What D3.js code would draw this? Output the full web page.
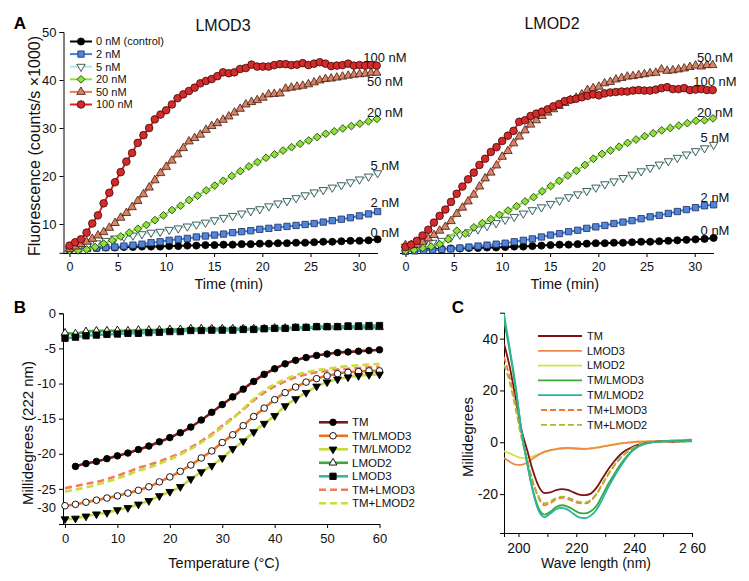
<!DOCTYPE html>
<html><head><meta charset="utf-8">
<script src="https://cdn.jsdelivr.net/npm/d3@7"></script>
<style>
body{margin:0;background:#fff;}
svg{display:block;font-family:"Liberation Sans",Arial,Helvetica,sans-serif;}
</style></head><body>
<svg id="fig" width="749" height="581"></svg>
<script>
// ---------------- Panel A data ----------------
const concLabels = ["0 nM","2 nM","5 nM","20 nM","50 nM","100 nM"];
const legendLabelsA = ["0 nM (control)","2 nM","5 nM","20 nM","50 nM","100 nM"];
const timeTicks = [0,5,10,15,20,25,30];
const yTicksA = [10,20,30,40,50];
// sampling interval (min) of each concentration series
const sampleStepA = [0.94,0.94,0.94,0.886,0.59,0.59];

// LMOD3 (left)
const lmod3_0nM = [4.8,4.9,5.0,5.0,5.1,5.1,5.2,5.2,5.3,5.3,5.3,5.4,5.4,5.5,5.5,5.6,5.6,5.7,5.7,5.8,5.8,5.9,5.9,6.0,6.0,6.1,6.1,6.2,6.3,6.3,6.4,6.5,6.5,6.6,6.8];
const lmod3_2nM = [4.7,4.8,4.9,5.0,5.1,5.2,5.4,5.6,5.8,6.1,6.3,6.6,6.8,7.0,7.3,7.5,7.7,7.9,8.2,8.4,8.6,8.9,9.1,9.3,9.5,9.7,9.9,10.1,10.4,10.7,11.0,11.3,11.7,12.1,12.6];
const lmod3_5nM = [4.8,5.1,5.5,6.0,6.5,7.0,7.3,7.6,7.9,8.2,8.4,8.8,9.1,9.5,9.9,10.3,10.8,11.3,11.7,12.2,12.7,13.1,13.7,14.3,14.8,15.4,16.0,16.6,17.1,17.6,18.1,18.7,19.3,19.9,20.6];
const lmod3_20nM = [4.5,4.5,4.7,5.2,5.9,6.6,7.4,8.2,9.0,9.8,10.8,11.8,12.9,13.8,15.0,15.9,17.0,18.0,19.0,20.0,21.0,22.0,22.9,23.8,24.5,25.3,26.0,26.7,27.4,28.1,28.8,29.3,29.9,30.4,30.9,31.4,31.9];
const lmod3_50nM = [4.8,5.3,5.8,6.3,6.9,7.6,8.3,9.2,10.2,11.3,12.3,13.5,14.8,16.2,17.6,19.1,20.6,21.9,23.2,24.5,25.8,27.2,27.9,28.6,29.6,30.4,31.0,31.7,32.4,33.2,34.0,34.9,35.4,35.8,36.3,37.0,37.1,37.2,38.2,38.4,38.6,38.8,39.1,39.5,39.9,40.2,40.3,40.5,40.7,40.9,41.1,41.2,41.3,41.5,41.5];
const lmod3_100nM = [5.5,6.2,6.8,8.2,10.1,11.8,14.3,16.5,18.7,20.8,23.0,24.8,26.9,28.5,30.0,31.8,32.8,33.7,34.9,36.2,37.0,37.7,38.4,39.3,39.8,40.2,40.8,41.6,41.4,41.6,42.3,42.5,43.2,42.8,42.8,42.8,43.1,43.3,43.3,43.1,43.2,43.5,43.1,43.4,43.7,43.4,42.9,43.0,43.1,43.4,43.0,43.1,43.0,43.1,43.0];
// LMOD2 (right)
const lmod2_0nM = [4.5,4.6,4.7,4.8,4.8,4.9,4.9,5.0,5.0,5.1,5.1,5.2,5.3,5.3,5.4,5.5,5.6,5.7,5.7,5.8,5.9,6.0,6.0,6.1,6.1,6.2,6.3,6.3,6.4,6.5,6.6,6.7,6.8,6.9,7.1];
const lmod2_2nM = [4.3,4.4,4.5,4.6,4.7,4.8,5.0,5.2,5.4,5.6,5.8,6.0,6.3,6.6,6.9,7.3,7.7,8.0,8.4,8.7,9.1,9.4,9.7,10.1,10.4,10.7,11.1,11.5,11.8,12.2,12.6,13.0,13.4,13.8,14.0];
const lmod2_5nM = [5.3,5.5,5.8,6.1,6.5,7.2,7.8,8.3,8.9,9.6,10.2,10.9,11.5,12.2,12.9,13.5,14.2,14.9,15.6,16.2,16.9,17.6,18.3,18.9,19.6,20.3,21.0,21.7,22.4,23.1,23.8,24.5,25.2,25.8,26.5];
const lmod2_20nM = [4.4,4.6,5.0,5.3,5.8,6.8,8.6,8.0,9.3,10.2,11.0,11.9,12.8,13.7,14.7,15.6,16.8,17.9,19.0,20.1,21.1,22.3,23.6,24.6,25.3,26.1,26.9,27.6,28.3,28.9,29.5,30.0,30.5,31.0,31.5,31.6,32.0];
const lmod2_50nM = [5.6,5.6,5.7,6.3,7.0,7.7,8.6,9.4,10.6,12.1,13.4,14.7,16.1,17.8,19.5,20.7,22.2,24.0,25.2,26.8,28.2,29.5,30.7,31.6,32.5,33.2,33.9,34.6,35.2,35.8,36.3,37.0,37.9,38.3,38.6,39.3,39.6,40.1,40.4,40.7,40.8,41.0,41.2,41.4,41.5,42.2,41.9,42.0,42.2,42.4,42.7,43.0,42.8,43.1,43.1];
const lmod2_100nM = [5.2,5.7,6.5,7.6,8.8,10.3,11.7,13.0,14.6,16.3,17.8,19.3,20.7,22.3,23.6,25.0,26.0,27.3,28.4,29.4,31.3,31.6,32.5,33.0,33.4,33.9,34.5,35.0,35.6,35.9,36.1,36.4,36.7,37.0,36.8,37.2,37.4,37.5,37.6,37.6,37.8,37.9,37.8,37.8,38.0,38.3,38.5,38.1,38.1,38.3,37.9,38.0,38.1,37.9,37.9];
// end-of-curve label anchor values (fluorescence units)
const endLabelValsLMOD3 = [8.3,14.4,22.1,33.3,39.6,44.8];
const endLabelValsLMOD2 = [8.75,15.6,28.1,33.3,44.8,39.6];

// ---------------- Panel B data ----------------
const tempB = [0,2,4,6,8,10,12,14,16,18,20,22,24,26,28,30,32,34,36,38,40,42,44,46,48,50,52,54,56,58,60];
const tempTicks = [0,10,20,30,40,50,60];
const yTicksB = [0,-5,-10,-15,-20,-25,-30];
const legendLabelsB = ["TM","TM/LMOD3","TM/LMOD2","LMOD2","LMOD3","TM+LMOD3","TM+LMOD2"];
const meltTM = [null,-21.8,-21.4,-21.1,-20.7,-20.3,-19.9,-19.4,-18.9,-18.3,-17.7,-17.0,-16.2,-15.2,-14.1,-13.0,-11.9,-10.8,-9.7,-8.7,-7.9,-7.2,-6.7,-6.3,-6.0,-5.8,-5.6,-5.5,-5.4,-5.3,-5.2];
const meltTM_LMOD3 = [-27.4,-27.2,-26.9,-26.6,-26.3,-26.0,-25.6,-25.2,-24.7,-24.0,-23.3,-22.5,-21.6,-20.6,-19.6,-18.4,-17.3,-16.0,-14.7,-13.5,-12.3,-11.3,-10.5,-9.8,-9.3,-8.9,-8.6,-8.4,-8.3,-8.2,-8.2];
const meltTM_LMOD2 = [-29.3,-29.2,-28.9,-28.6,-28.4,-28.0,-27.7,-27.2,-26.7,-26.0,-25.4,-24.7,-23.6,-22.6,-21.7,-20.6,-19.3,-18.2,-16.9,-15.7,-14.6,-13.2,-12.2,-11.3,-10.4,-9.8,-9.4,-9.1,-8.9,-8.75,-8.7];
const meltLMOD2 = [-2.8,-2.9,-2.6,-2.5,-2.5,-2.45,-2.5,-2.4,-2.4,-2.4,-2.3,-2.3,-2.2,-2.2,-2.2,-2.2,-2.2,-2.2,-2.2,-2.2,-2.1,-2.1,-2.1,-2.1,-2.0,-2.0,-2.0,-2.0,-2.0,-2.0,-2.0];
const meltLMOD3 = [-3.55,-3.4,-3.2,-3.1,-3.0,-2.95,-2.85,-2.85,-2.75,-2.7,-2.6,-2.6,-2.45,-2.45,-2.4,-2.4,-2.4,-2.3,-2.3,-2.2,-2.15,-2.15,-2.0,-2.0,-1.9,-1.9,-1.9,-1.8,-1.8,-1.75,-1.75];
const meltTMplusLMOD3 = [-24.9,-24.6,-24.3,-24.0,-23.6,-23.1,-22.6,-22.0,-21.6,-21.1,-20.5,-19.9,-19.1,-18.2,-17.2,-16.0,-14.9,-13.7,-12.4,-11.3,-10.4,-9.7,-9.1,-8.7,-8.4,-8.2,-8.0,-7.9,-7.8,-7.7,-7.6];
const meltTMplusLMOD2 = [-25.4,-25.1,-24.8,-24.4,-24.0,-23.5,-23.0,-22.4,-22.0,-21.4,-20.8,-20.1,-19.3,-18.4,-17.4,-16.2,-15.0,-13.6,-12.2,-11.0,-10.1,-9.4,-8.8,-8.4,-8.1,-7.9,-7.7,-7.5,-7.4,-7.3,-7.2];

// ---------------- Panel C data ----------------
const wavelengthC = [195,197,199,201,203,205,207,209,211,213,215,217,219,221,223,225,227,229,231,233,235,237,239,241,243,245,247,249,251,253,255,257,259,260];
const wlTicks = [200,210,220,230,240,250,260];
const wlTickLabels = {200:"200",220:"220",240:"240",260:"2 60"};
const yTicksC = [-20,0,20,40];
const legendLabelsC = ["TM","LMOD3","LMOD2","TM/LMOD3","TM/LMOD2","TM+LMOD3","TM+LMOD2"];
const cdTM = [38,29,17,5,-3,-11,-17,-19.6,-19.3,-18.5,-18.1,-18.4,-19.3,-20.2,-20.4,-19.8,-17.5,-14,-10.5,-7.5,-5,-3.2,-2,-1.1,-0.5,-0.1,0.2,0.4,0.3,0.2,0.3,0.5,0.6,0.6];
const cdLMOD3 = [-6.1,-7.5,-8.6,-8.7,-7.8,-6.3,-4.8,-3.6,-3.0,-2.6,-2.3,-2.2,-2.3,-2.5,-2.6,-2.4,-2.1,-1.7,-1.3,-0.9,-0.5,-0.2,0,0.2,0.2,0.3,0.3,0.4,0.5,0.6,0.8,0.9,1.0,1.0];
const cdLMOD2 = [-3.5,-4.3,-5.3,-6.0,-6.0,-5.4,-4.6,-3.8,-3.2,-2.7,-2.4,-2.3,-2.4,-2.4,-2.5,-2.3,-2.0,-1.6,-1.2,-0.8,-0.4,-0.2,0,0.2,0.3,0.4,0.4,0.5,0.5,0.6,0.6,0.7,0.8,0.8];
const cdTM_LMOD3 = [47,35,21,5,-8,-18.5,-25.5,-27.9,-26.8,-25,-24.3,-24.8,-26,-27.2,-27.4,-26.6,-24.5,-20.5,-16.2,-12.5,-9,-6,-3.5,-1.8,-0.8,-0.2,0.1,0.3,0.5,0.6,0.5,0.4,0.5,0.5];
const cdTM_LMOD2 = [49.5,36,22,4.5,-8,-19,-26.5,-28.9,-27.5,-25.8,-25.3,-26,-27.6,-29,-29.3,-28.3,-26,-22,-17.5,-13.5,-9.8,-6.5,-3.8,-2,-0.9,-0.3,0.1,0.2,0.5,0.5,0.4,0.3,0.4,0.4];
const cdTMplusLMOD3 = [33,25,15,3,-7,-15.5,-21.5,-24.3,-23.5,-22,-21.4,-21.8,-22.8,-23.5,-23.6,-22.6,-20,-16.3,-12.5,-9.2,-6.5,-4.3,-2.6,-1.4,-0.6,-0.1,0.2,0.3,0.4,0.2,0.3,0.5,0.6,0.7];
const cdTMplusLMOD2 = [30,23,13,2,-7,-15,-21,-23.6,-22.8,-21.5,-21,-21.3,-22.2,-23,-23.2,-22.3,-19.8,-16,-12.3,-9,-6.3,-4.1,-2.5,-1.3,-0.5,0,0.2,0.3,0.5,0.3,0.2,0.3,0.5,0.6];

// ---------------- drawing ----------------
const svg = d3.select("#fig");
const FONT = '"Liberation Sans",Arial,Helvetica,sans-serif';

function symPath(type, size){
  const t = {circle:d3.symbolCircle, square:d3.symbolSquare, triangle:d3.symbolTriangle,
             tridown:d3.symbolTriangle, diamond:d3.symbolSquare}[type];
  return d3.symbol().type(t).size(size)();
}
function symRot(type){ return type==="tridown" ? 180 : (type==="diamond" ? 45 : 0); }

function styleAxis(g, fs){
  g.attr("font-family", FONT).attr("font-size", fs);
  g.selectAll("path.domain").attr("stroke","#000").attr("stroke-width",1);
  g.selectAll(".tick line").attr("stroke","#000");
  g.selectAll(".tick text").attr("fill","#111");
}

// ---------- Panel A ----------
const stylesA = [
  {line:"#000000", fill:"#000000", stroke:"#000000", sym:"circle", size:40},
  {line:"#4a7fd6", fill:"#4f86dc", stroke:"#1c2c58", sym:"square", size:40},
  {line:"#a6ece6", fill:"#f6fdfd", stroke:"#1e3434", sym:"tridown", size:30},
  {line:"#8ee03c", fill:"#8ee03c", stroke:"#1e3a0c", sym:"diamond", size:30},
  {line:"#f27a52", fill:"#d88266", stroke:"#3c1a10", sym:"triangle", size:32},
  {line:"#e21e1e", fill:"#d42a2a", stroke:"#3c0808", sym:"circle", size:46}
];
const yA = d3.scaleLinear().domain([4,50]).range([252.8,32]);

function drawA(cfg){
  const x = d3.scaleLinear().domain([0,32]).range(cfg.xr);
  const g = svg.append("g");
  const xa = g.append("g").attr("transform","translate(0,253)")
     .call(d3.axisBottom(x).tickValues(timeTicks).tickSize(4).tickPadding(5));
  xa.select(".domain").attr("d", `M${cfg.axisStart},0.5H${cfg.xr[1]}`);
  styleAxis(xa, 12.5);
  if (cfg.yAxis){
    const ya = g.append("g").attr("transform","translate(63.5,0)")
      .call(d3.axisLeft(yA).tickValues(yTicksA).tickSize(4).tickPadding(3));
    styleAxis(ya, 13);
  }
  cfg.series.forEach((vals,k)=>{
    const st = stylesA[k];
    const pts = vals.map((v,i)=>[i*sampleStepA[k], v]);
    g.append("path").datum(pts)
      .attr("fill","none").attr("stroke",st.line).attr("stroke-width",2)
      .attr("d", d3.line().x(d=>x(d[0])).y(d=>yA(d[1])));
    g.append("g").selectAll("path").data(pts).join("path")
      .attr("d", symPath(st.sym, st.size))
      .attr("transform", d=>`translate(${x(d[0])},${yA(d[1])}) rotate(${symRot(st.sym)})`)
      .attr("fill", st.fill).attr("stroke", st.stroke).attr("stroke-width",0.8);
  });
  // end labels
  g.append("g").selectAll("text").data(cfg.labelVals).join("text")
    .attr("x", x(32) + cfg.labelDx).attr("y", d=>yA(d)).attr("dy","0.35em")
    .attr("text-anchor","middle").attr("font-size",13).attr("fill","#111")
    .text((d,i)=>concLabels[i]);
  g.append("text").attr("x", cfg.titleX).attr("y", cfg.titleY).attr("text-anchor","middle")
    .attr("font-size",16).attr("fill","#111").text(cfg.title);
  g.append("text").attr("x", (cfg.xr[0]+cfg.xr[1])/2 + 5).attr("y", 289).attr("text-anchor","middle")
    .attr("font-size",14.5).attr("fill","#111").text("Time (min)");
}

drawA({xr:[69.5,378], axisStart:63.5, yAxis:true, title:"LMOD3", titleX:223, titleY:31,
  series:[lmod3_0nM,lmod3_2nM,lmod3_5nM,lmod3_20nM,lmod3_50nM,lmod3_100nM],
  labelVals:endLabelValsLMOD3, labelDx:7});
drawA({xr:[405.5,714], axisStart:400, yAxis:false, title:"LMOD2", titleX:552, titleY:29,
  series:[lmod2_0nM,lmod2_2nM,lmod2_5nM,lmod2_20nM,lmod2_50nM,lmod2_100nM],
  labelVals:endLabelValsLMOD2, labelDx:1});

// legend A
const legA = svg.append("g");
legendLabelsA.forEach((lab,i)=>{
  const st = stylesA[i], yy = 41.5 + i*12.6;
  legA.append("line").attr("x1",70).attr("x2",92).attr("y1",yy).attr("y2",yy)
    .attr("stroke",st.line).attr("stroke-width",2);
  legA.append("path").attr("d",symPath(st.sym, st.size))
    .attr("transform",`translate(81,${yy}) rotate(${symRot(st.sym)})`)
    .attr("fill",st.fill).attr("stroke",st.stroke).attr("stroke-width",0.8);
  legA.append("text").attr("x",96).attr("y",yy).attr("dy","0.35em")
    .attr("font-size",11).attr("fill","#111").text(lab);
});

svg.append("text").attr("x",20).attr("y",29).attr("text-anchor","middle")
  .attr("font-size",17).attr("font-weight","bold").attr("fill","#000").text("A");
svg.append("text").attr("transform","translate(40,146) rotate(-90)").attr("text-anchor","middle")
  .attr("font-size",16).attr("fill","#111").text("Fluorescence (counts/s \u00d71000)");

// ---------- Panel B ----------
const xB = d3.scaleLinear().domain([0,60]).range([65,379.5]);
const yB = d3.scaleLinear().domain([-30,0]).range([524,313.3]);
const gB = svg.append("g");
const xaB = gB.append("g").attr("transform","translate(0,524)")
  .call(d3.axisBottom(xB).tickValues(tempTicks).tickSize(4).tickPadding(6));
xaB.select(".domain").attr("d","M63,0.5H380");
styleAxis(xaB, 13);
const yaB = gB.append("g").attr("transform","translate(63,0)")
  .call(d3.axisLeft(yB).tickValues(yTicksB).tickSize(4).tickPadding(3).tickFormat(d=>String(d)));
styleAxis(yaB, 13);
yaB.selectAll(".tick").filter(d=>d===-30).select("text").attr("y",-17);

const seriesB = [
  {vals:meltTMplusLMOD3, line:"#f47a5a", dash:"7,4"},
  {vals:meltTMplusLMOD2, line:"#c8de3a", dash:"7,4"},
  {vals:meltTM, line:"#7b1818", sym:"circle", fill:"#000", stroke:"#000", size:34},
  {vals:meltTM_LMOD3, line:"#f07020", sym:"circle", fill:"#fff", stroke:"#000", size:34},
  {vals:meltTM_LMOD2, line:"#c4dc3c", sym:"tridown", fill:"#000", stroke:"#000", size:26},
  {vals:meltLMOD2, line:"#3aa83a", sym:"triangle", fill:"#fff", stroke:"#000", size:26},
  {vals:meltLMOD3, line:"#3cb4a0", sym:"square", fill:"#000", stroke:"#000", size:40}
];
seriesB.forEach(s=>{
  const pts = s.vals.map((v,i)=>[tempB[i], v]);
  gB.append("path").datum(pts).attr("fill","none").attr("stroke",s.line).attr("stroke-width",2.6)
    .attr("stroke-dasharray", s.dash || null)
    .attr("d", d3.line().defined(d=>d[1]!=null).x(d=>xB(d[0])).y(d=>yB(d[1])).curve(d3.curveMonotoneX));
  if (s.sym){
    gB.append("g").selectAll("path").data(pts.filter(d=>d[1]!=null)).join("path")
      .attr("d", symPath(s.sym, s.size))
      .attr("transform", d=>`translate(${xB(d[0])},${yB(d[1])}) rotate(${symRot(s.sym)})`)
      .attr("fill", s.fill).attr("stroke", s.stroke).attr("stroke-width",0.9);
  }
});
// legend B (order as in figure)
const legOrderB = [2,3,4,5,6,0,1];
const legB = svg.append("g");
legOrderB.forEach((si,i)=>{
  const s = seriesB[si], yy = 422.3 + i*13.5;
  legB.append("line").attr("x1",319).attr("x2",348).attr("y1",yy).attr("y2",yy)
    .attr("stroke",s.line).attr("stroke-width",2.6).attr("stroke-dasharray", s.dash || null);
  if (s.sym) legB.append("path").attr("d",symPath(s.sym,s.size))
    .attr("transform",`translate(333,${yy}) rotate(${symRot(s.sym)})`)
    .attr("fill",s.fill).attr("stroke",s.stroke).attr("stroke-width",0.9);
  legB.append("text").attr("x",352).attr("y",yy).attr("dy","0.35em")
    .attr("font-size",11.5).attr("fill","#111").text(legendLabelsB[i]);
});
svg.append("text").attr("x",20).attr("y",313).attr("text-anchor","middle")
  .attr("font-size",17).attr("font-weight","bold").attr("fill","#000").text("B");
svg.append("text").attr("transform","translate(33,433) rotate(-90)").attr("text-anchor","middle")
  .attr("font-size",15).attr("fill","#111").text("Millidegrees (222 nm)");
svg.append("text").attr("x",224).attr("y",568).attr("text-anchor","middle")
  .attr("font-size",14.5).attr("fill","#111").text("Temperature (\u00b0C)");

// ---------- Panel C ----------
const xC = d3.scaleLinear().domain([195,260]).range([504,692]);
const yC = d3.scaleLinear().domain([-35,50]).range([533,312.7]);
const gC = svg.append("g");
const xaC = gC.append("g").attr("transform","translate(0,533)")
  .call(d3.axisBottom(xC).tickValues(wlTicks).tickSize(4).tickPadding(6)
        .tickFormat(d=>wlTickLabels[d] || ""));
styleAxis(xaC, 14);
const yaC = gC.append("g").attr("transform","translate(504,0)")
  .call(d3.axisLeft(yC).tickValues(yTicksC).tickSize(4).tickPadding(2).tickFormat(d=>String(d)));
styleAxis(yaC, 14);

const seriesC = [
  {vals:cdTM, line:"#7e1212"},
  {vals:cdLMOD3, line:"#f08848"},
  {vals:cdLMOD2, line:"#d4e048"},
  {vals:cdTM_LMOD3, line:"#3aa83a"},
  {vals:cdTM_LMOD2, line:"#2ab4a0"},
  {vals:cdTMplusLMOD3, line:"#f07830", dash:"6,3"},
  {vals:cdTMplusLMOD2, line:"#a8b838", dash:"6,3"}
];
svg.append("clipPath").attr("id","clipC").append("rect")
  .attr("x",504).attr("y",312).attr("width",190).attr("height",221);
const drawOrderC = [2,1,0,5,6,3,4];
drawOrderC.forEach(k=>{
  const s = seriesC[k];
  const pts = s.vals.map((v,i)=>[wavelengthC[i], v]);
  gC.append("path").datum(pts).attr("clip-path","url(#clipC)")
    .attr("fill","none").attr("stroke",s.line).attr("stroke-width",1.8)
    .attr("stroke-dasharray", s.dash || null)
    .attr("d", d3.line().x(d=>xC(d[0])).y(d=>yC(d[1])).curve(d3.curveMonotoneX));
});
const legC = svg.append("g");
seriesC.forEach((s,i)=>{
  const yy = 336 + i*14.8;
  legC.append("line").attr("x1", s.dash ? 541 : 538).attr("x2",582).attr("y1",yy).attr("y2",yy)
    .attr("stroke",s.line).attr("stroke-width",1.8).attr("stroke-dasharray", s.dash || null);
  legC.append("text").attr("x",587).attr("y",yy).attr("dy","0.35em")
    .attr("font-size",11).attr("fill","#111").text(legendLabelsC[i]);
});
svg.append("text").attr("x",458).attr("y",313).attr("text-anchor","middle")
  .attr("font-size",17).attr("font-weight","bold").attr("fill","#000").text("C");
svg.append("text").attr("transform","translate(473,437) rotate(-90)").attr("text-anchor","middle")
  .attr("font-size",15).attr("fill","#111").text("Millidegrees");
svg.append("text").attr("x",596).attr("y",568).attr("text-anchor","middle")
  .attr("font-size",14).attr("fill","#111").text("Wave length (nm)");
</script>
</body></html>
